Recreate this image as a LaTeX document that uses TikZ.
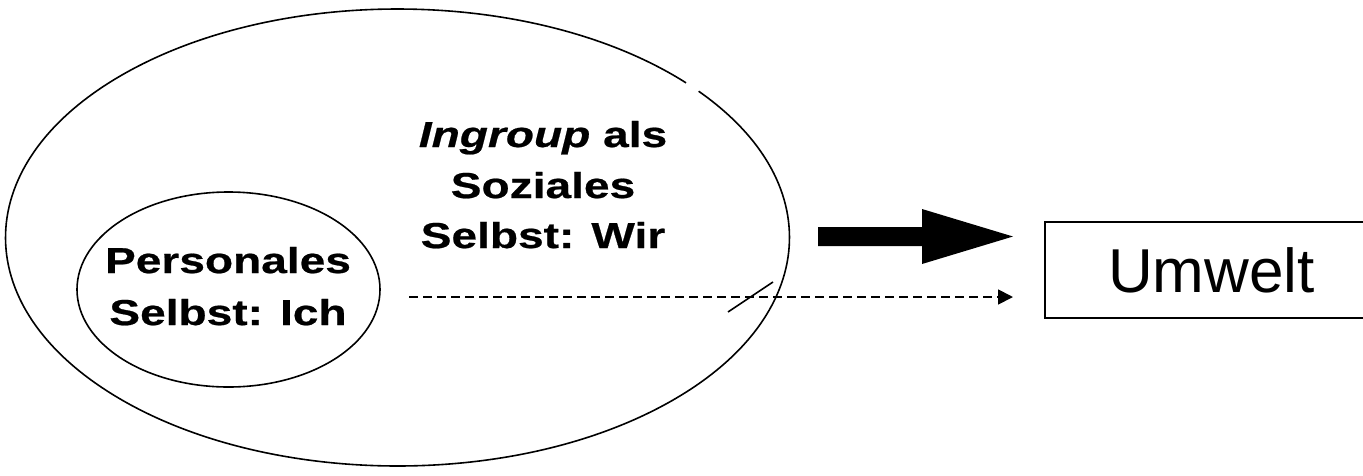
\documentclass[tikz,border=0pt]{standalone}
\usepackage{fontspec}
\setmainfont{Liberation Sans}
\newfontfamily\heavy[FakeBold=0.6, FakeStretch=1.28]{Liberation Sans Bold}
\newfontfamily\heavyit[FakeBold=0.6, FakeStretch=1.28]{Liberation Sans Bold Italic}
\usetikzlibrary{shapes.geometric,arrows.meta}
\begin{document}
\begin{tikzpicture}[x=1pt,y=-1pt,
  thinline/.style={line width=1.6pt},
  lbl/.style={font=\heavy\fontsize{36}{44}\selectfont, inner sep=0pt, anchor=base},
]
\fill[white] (0,0) rectangle (1363,475);
\useasboundingbox (0,0) rectangle (1363,475);
% outer ellipse (with a small gap at top right)
\node[ellipse, minimum width=784pt, minimum height=457pt, inner sep=0pt] (ingroup) at (397.5,237.5) {};
\draw[thinline] (ingroup.center) ++(42.6:392pt and 228.5pt)
  arc[start angle=42.6, end angle=399.8, x radius=392pt, y radius=228.5pt];
% inner ellipse
\node[ellipse, draw, thinline, minimum width=303pt, minimum height=195pt, inner sep=0pt] (ich) at (228.5,289.5) {};
% texts
\node[lbl] (t1) at (543,147) {{\heavyit Ingroup} als};
\node[lbl] (t2) at (543,198) {Soziales};
\node[lbl] (t3) at (543,248) {Selbst: Wir};
\node[lbl] (p1) at (228,273) {Personales};
\node[lbl] (p2) at (228,325) {Selbst: Ich};
% box
\node[draw, line width=2pt, minimum width=333pt, minimum height=96pt, inner sep=0pt,
      font=\fontsize{62}{74}\selectfont] (umwelt) at (1211.5,270) {Umwelt};
% thick arrow
\coordinate (ts) at (818,236.5);
\coordinate (te) at (1013,236.5);
\fill (ts) ++(0,-9.5) -- (922,227) -- (922,209) -- (te) -- (922,264) -- (922,246) -- (818,246) -- cycle;
% dashed arrow
\coordinate (ds) at (409,297);
\coordinate (de) at (1013,297);
\draw[line width=1.8pt, dash pattern=on 9pt off 5pt,
      -{Triangle[length=15pt,width=15pt]}] (ds) -- (de);
% slash
\coordinate (s1) at (728,312);
\coordinate (s2) at (773,282);
\draw[thinline] (s1) -- (s2);
\end{tikzpicture}
\end{document}
